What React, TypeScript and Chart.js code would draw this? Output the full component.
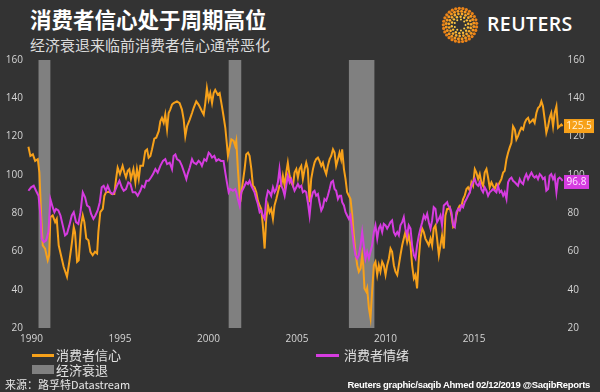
import React, { useEffect, useRef } from "react";
import { Chart, registerables } from "chart.js";

Chart.register(...registerables);

// ---- Data ----
const confDates = [
  1989.83, 1989.94, 1990.08, 1990.21, 1990.36, 1990.45, 1990.55, 1990.64, 1990.77, 1990.92, 1991.0, 1991.07, 1991.2, 1991.34, 1991.43, 1991.54, 1991.67, 1991.82,
  1992.01, 1992.14, 1992.28, 1992.39, 1992.46, 1992.58, 1992.67, 1992.8, 1992.9, 1992.99, 1993.1, 1993.22, 1993.33, 1993.46, 1993.59, 1993.71, 1993.78, 1993.89,
  1994.03, 1994.12, 1994.21, 1994.4, 1994.53, 1994.68, 1994.78, 1994.87, 1995.0, 1995.15, 1995.25, 1995.34, 1995.44, 1995.53, 1995.62, 1995.76,
  1995.87, 1995.96, 1996.06, 1996.15, 1996.3, 1996.43, 1996.53, 1996.62, 1996.72, 1996.81, 1996.94, 1997.05, 1997.19, 1997.28, 1997.37, 1997.47, 1997.56, 1997.66,
  1997.75, 1997.84, 1997.94, 1998.03, 1998.22, 1998.37, 1998.5, 1998.6, 1998.69, 1998.79, 1998.94, 1999.07, 1999.16, 1999.31, 1999.44, 1999.54, 1999.63, 1999.73,
  1999.82, 1999.91, 2000.01, 2000.1, 2000.2, 2000.29, 2000.38, 2000.52, 2000.63, 2000.76, 2000.85, 2000.95, 2001.04, 2001.1, 2001.19, 2001.29, 2001.42, 2001.51,
  2001.57, 2001.66, 2001.79, 2001.91, 2002.04, 2002.13, 2002.23, 2002.32, 2002.42, 2002.51, 2002.6, 2002.7, 2002.79, 2002.89, 2002.98, 2003.07, 2003.17, 2003.26,
  2003.36, 2003.45, 2003.54, 2003.64, 2003.73, 2003.83, 2003.92, 2004.01, 2004.11, 2004.2, 2004.3, 2004.39, 2004.48, 2004.58, 2004.67, 2004.77, 2004.86, 2004.96,
  2005.05, 2005.14, 2005.24, 2005.33, 2005.43, 2005.52, 2005.61, 2005.71, 2005.8, 2005.9, 2005.99, 2006.08, 2006.18, 2006.27, 2006.37, 2006.46, 2006.55, 2006.65,
  2006.74, 2006.84, 2006.93, 2007.03, 2007.12, 2007.21, 2007.31, 2007.4, 2007.49,
  2007.55, 2007.65, 2007.74, 2007.83, 2007.93, 2008.02, 2008.12, 2008.21, 2008.3, 2008.4, 2008.49, 2008.59, 2008.68, 2008.74, 2008.81, 2008.91, 2008.96, 2009.06,
  2009.15, 2009.24, 2009.34, 2009.43, 2009.53, 2009.62, 2009.71, 2009.81, 2009.9, 2010.0, 2010.09, 2010.19, 2010.28, 2010.37, 2010.47, 2010.56, 2010.66, 2010.75,
  2010.84, 2010.94, 2011.03, 2011.12, 2011.22, 2011.31, 2011.41, 2011.5, 2011.6, 2011.69, 2011.78, 2011.88, 2011.97, 2012.07, 2012.16, 2012.25, 2012.35, 2012.44,
  2012.54, 2012.63, 2012.72, 2012.82, 2012.91, 2013.01, 2013.1, 2013.19, 2013.29, 2013.38, 2013.48,
  2013.53, 2013.63, 2013.72, 2013.82, 2013.91, 2014.0, 2014.1, 2014.19, 2014.29, 2014.38, 2014.47, 2014.57, 2014.66, 2014.76, 2014.85, 2014.94, 2015.04, 2015.13,
  2015.23, 2015.32, 2015.41, 2015.51, 2015.6, 2015.7, 2015.79, 2015.88, 2015.98, 2016.07, 2016.17, 2016.26, 2016.35, 2016.45, 2016.54, 2016.64, 2016.73, 2016.83,
  2016.92, 2017.01, 2017.11, 2017.2, 2017.3, 2017.39, 2017.48, 2017.58, 2017.67, 2017.77, 2017.86, 2017.95, 2018.05, 2018.14, 2018.24, 2018.33, 2018.42, 2018.52,
  2018.61, 2018.71, 2018.8, 2018.89, 2018.99, 2019.08, 2019.18, 2019.27, 2019.36, 2019.46, 2019.55, 2019.65, 2019.74, 2019.83, 2019.93, 2020.0,
];
const confValues = [
  114.7, 109.9, 110.7, 107.3, 108.2, 101.2, 78.8, 63.2, 61.5, 55.4, 58, 77.9, 78.8, 75.3, 77, 63.2, 58, 52,
  46.8, 54.6, 64.1, 72.7, 70.1, 54.6, 55.4, 73.6, 78.8, 75.3, 66.7, 65.8, 59.8, 58, 59.8, 58.9, 70.1, 80.5,
  82.2, 89.1, 90.9, 91.2, 90, 90, 97.8, 103.8, 100.4, 104.7, 101.2, 98.6, 102.1, 103, 97.8, 103,
  96.1, 103, 97.8, 104.7, 104.7, 112.5, 113.3, 109, 109.9, 113.3, 118.9, 119.4, 122.8, 128, 129.8, 127.2, 131.5, 123.7,
  132.3, 134.1, 136.7, 137.5, 138.4, 137.5, 134.1, 128.9, 120.2, 125.4, 128.9, 132.3, 134.9, 138.4, 136.7, 134.9, 133.2, 131.5,
  137.5, 145.3, 139.3, 142.7, 137.5, 142.7, 144.4, 141.9, 142.7, 135.8, 130.6, 124.6, 115.9, 109.9, 114.2, 118.5, 117.7, 115.1,
  117.7, 103, 85.7, 94.3, 103, 110.7, 111.6, 109.9, 103, 94.3, 93.5, 90.9, 86.5, 84, 82.2, 73.6, 61.5, 77,
  84, 80.5, 82.2, 77, 84, 87.4, 90.9, 94.3, 94.3, 99.5, 94.3, 101.2, 106.4, 99.5, 96.1, 94.3, 101.2, 103,
  98.6, 103, 104.7, 97.8, 103, 106.4, 103, 85.7, 97.8, 103, 106.4, 108.2, 109, 107.3, 104.7, 106.4, 103, 100.4,
  104.7, 108.2, 109.9, 113.3, 111.6, 104.7, 108.2, 111.6, 108.2,
  113.3, 103, 97.8, 90.9, 89.1, 87.4, 78.8, 68.4, 59.8, 52.8, 49.4, 51.1, 58, 52.8, 40.7, 39, 40.7, 30.4,
  25.2, 39, 52.8, 54.6, 47.7, 52.8, 49.4, 54.6, 52.8, 47.7, 52.8, 56.3, 61.5, 59.8, 52.8, 49.4, 47.7, 52.8,
  58, 63.2, 66.7, 70.1, 64.9, 68.4, 63.2, 52.8, 45.9, 47.7, 40.7, 56.3, 66.7, 71.9, 70.1, 66.7, 64.9, 63.2,
  66.7, 63.2, 71.9, 73.6, 66.7, 58, 63.2, 68.4, 61.5, 78.8, 82.2,
  82.2, 83.1, 78.8, 72.7, 73.6, 78.8, 82.2, 84, 84, 87.4, 89.1, 92.6, 93.5, 91.7, 96.1, 94.3, 103, 101.2,
  97.8, 100.4, 96.1, 94.3, 101.2, 103, 98.6, 93.5, 96.1, 94.3, 92.6, 95.2, 94.3, 96.1, 97.8, 101.2, 102.1, 108.2,
  111.6, 114.2, 116.8, 125.4, 123.7, 118.5, 120.2, 122.8, 124.6, 123.7, 127.2, 128.9, 129.8, 127.2, 128, 128.9, 127.2, 132.3,
  134.9, 135.8, 138.4, 135.8, 128.9, 122, 125.4, 129.8, 132.3, 125.4, 132.3, 135.8, 124.6, 125.4, 126.3, 125.5,
];

const sentDates = [
  1989.83, 1989.98, 1990.13, 1990.26, 1990.4, 1990.51, 1990.58, 1990.7, 1990.83, 1990.96, 1991.07, 1991.2, 1991.3, 1991.39, 1991.52, 1991.64, 1991.77, 1991.9,
  1992.01, 1992.14, 1992.28, 1992.39, 1992.52, 1992.65, 1992.77, 1992.9, 1993.03, 1993.14, 1993.27, 1993.37, 1993.5, 1993.61, 1993.74, 1993.86, 1993.97, 1994.08,
  1994.21, 1994.31, 1994.46, 1994.59, 1994.72, 1994.83, 1994.97, 1995.1, 1995.21, 1995.34, 1995.47, 1995.59, 1995.72,
  1995.87, 1996.0, 1996.15, 1996.25, 1996.38, 1996.49, 1996.62, 1996.75, 1996.87, 1997.0, 1997.13, 1997.28, 1997.43, 1997.56, 1997.66, 1997.81, 1997.94, 1998.03,
  1998.13, 1998.22, 1998.37, 1998.5, 1998.63, 1998.75, 1998.82, 1998.94, 1999.07, 1999.16, 1999.31, 1999.44, 1999.54, 1999.63, 1999.76, 1999.88, 2000.01, 2000.1,
  2000.2, 2000.33, 2000.44, 2000.57, 2000.7, 2000.85, 2000.95, 2001.04, 2001.14, 2001.23, 2001.38, 2001.51,
  2001.57, 2001.66, 2001.76, 2001.85, 2001.95, 2002.04, 2002.13, 2002.23, 2002.32, 2002.42, 2002.51, 2002.6, 2002.7, 2002.79, 2002.89, 2002.98, 2003.07, 2003.17,
  2003.26, 2003.36, 2003.45, 2003.54, 2003.64, 2003.73, 2003.83, 2003.92, 2004.01, 2004.11, 2004.2, 2004.3, 2004.39, 2004.48, 2004.58, 2004.67, 2004.77, 2004.86,
  2004.96, 2005.05, 2005.14, 2005.24, 2005.33, 2005.43, 2005.52, 2005.61, 2005.71, 2005.8, 2005.9, 2005.99, 2006.08, 2006.18, 2006.27, 2006.37, 2006.46, 2006.55,
  2006.65, 2006.74, 2006.84, 2006.93, 2007.03, 2007.12, 2007.21, 2007.31, 2007.4, 2007.49,
  2007.55, 2007.65, 2007.74, 2007.83, 2007.93, 2008.02, 2008.12, 2008.21, 2008.3, 2008.4, 2008.49, 2008.59, 2008.68, 2008.77, 2008.87, 2008.96, 2009.06, 2009.15,
  2009.24, 2009.34, 2009.43, 2009.53, 2009.62, 2009.71, 2009.81, 2009.9, 2010.0, 2010.09, 2010.19, 2010.28, 2010.37, 2010.47, 2010.56, 2010.66, 2010.75, 2010.84,
  2010.94, 2011.03, 2011.12, 2011.22, 2011.31, 2011.41, 2011.5, 2011.6, 2011.69, 2011.78, 2011.88, 2011.97, 2012.07, 2012.16, 2012.25, 2012.35, 2012.44, 2012.54,
  2012.63, 2012.72, 2012.82, 2012.91, 2013.01, 2013.1, 2013.19, 2013.29, 2013.38, 2013.48,
  2013.53, 2013.63, 2013.72, 2013.82, 2013.91, 2014.0, 2014.1, 2014.19, 2014.29, 2014.38, 2014.47, 2014.57, 2014.66, 2014.76, 2014.85, 2014.94, 2015.04, 2015.13,
  2015.23, 2015.32, 2015.41, 2015.51, 2015.6, 2015.7, 2015.79, 2015.88, 2015.98, 2016.07, 2016.17, 2016.26, 2016.35, 2016.45, 2016.54, 2016.64, 2016.73, 2016.83,
  2016.92, 2017.01, 2017.11, 2017.2, 2017.3, 2017.39, 2017.48, 2017.58, 2017.67, 2017.77, 2017.86, 2017.95, 2018.05, 2018.14, 2018.24, 2018.33, 2018.42, 2018.52,
  2018.61, 2018.71, 2018.8, 2018.89, 2018.99, 2019.08, 2019.18, 2019.27, 2019.36, 2019.46, 2019.55, 2019.65, 2019.74, 2019.83, 2019.93, 2020.0,
];
const sentValues = [
  91.7, 93.5, 94.3, 91.7, 89.1, 78.8, 66.7, 64.9, 65.8, 70.1, 87.4, 83.1, 80.5, 82.2, 81.4, 78.8, 73.6, 68.4,
  69.3, 73.6, 78.8, 80.5, 75.3, 74.4, 80.5, 90.9, 88.3, 84, 83.1, 79.6, 77, 78.8, 81.4, 85.7, 93.5, 94.3,
  91.7, 94.3, 90.9, 90, 91.7, 94.3, 96.9, 93.5, 91.7, 92.6, 96.1, 95.2, 90.9,
  90.9, 89.1, 91.7, 94.3, 93.5, 96.9, 96.9, 98.6, 100.4, 103, 101.2, 104.7, 107.3, 108.2, 105.6, 106.4, 103, 109.9,
  110.7, 108.2, 107.3, 104.7, 101.2, 97.8, 100.4, 103.8, 108.2, 106.4, 105.6, 107.3, 106.4, 104.7, 108.2, 107.3, 111.6, 110.7,
  109, 109.9, 107.3, 108.2, 107.3, 107.3, 101.2, 96.1, 90.9, 92.6, 91.7, 92.6,
  91, 87.4, 84, 90.9, 92.6, 94.3, 96.1, 95.2, 96.9, 94.3, 92.6, 90.9, 87.4, 84.8, 80.5, 81.4, 78.8, 77,
  87.4, 91.7, 90.9, 89.1, 93.5, 90.9, 92.6, 96.1, 103, 94.3, 92.6, 89.1, 94.3, 99.5, 96.1, 97.8, 94.3, 91.7,
  93.5, 95.2, 93.5, 94.3, 90.9, 91.7, 90.9, 85.7, 78.8, 87.4, 90.9, 91.7, 89.1, 90, 85.7, 81.4, 83.1, 87.4,
  86.5, 89.1, 92.6, 96.1, 96.9, 92.6, 91.7, 87.4, 89.1, 89.1,
  85.7, 84, 80.5, 78.8, 77, 78.8, 70.1, 63.2, 58, 56.3, 58, 63.2, 70.1, 63.2, 56.3, 59.8, 56.3, 59.8,
  63.2, 70.1, 73.6, 66.7, 71.9, 73.6, 70.1, 74.4, 73.6, 71.9, 73.6, 75.3, 76.2, 70.1, 68.4, 70.1, 68.4, 73.6,
  75.3, 77.9, 71.9, 68.4, 73.6, 71.9, 63.2, 58, 56.3, 63.2, 68.4, 71.9, 75.3, 78.8, 77, 79.6, 75.3, 71.9,
  76.2, 83.1, 82.2, 75.3, 77, 78.8, 73.6, 84, 84.8, 85.7,
  84, 83.1, 80.5, 73.6, 72.7, 80.5, 82.2, 81.4, 84, 83.1, 85.7, 87.4, 89.1, 90.9, 94.3, 96.1, 97.8, 95.2,
  94.3, 96.1, 92.6, 90.9, 93.5, 91.7, 89.1, 90.9, 91.7, 92.6, 91.7, 90.9, 94.3, 90.9, 91.7, 89.1, 90.9, 87.4,
  96.1, 97.8, 98.6, 96.9, 96.1, 95.2, 94.3, 97.8, 96.1, 95.2, 98.6, 100.4, 97.8, 99.5, 101.2, 99.5, 98.6, 99.5,
  97.8, 100.4, 99.5, 97.8, 98.6, 91.7, 92.6, 99.5, 100.4, 97.8, 99.5, 90.9, 97.8, 98.6, 97.8, 96.8,
];

const recessionStarts = [1990.4, 2001.14, 2007.93];
const recessionEnds = [1991.07, 2001.85, 2009.37];
const xTickYears = [1990, 1995, 2000, 2005, 2010, 2015];
const yMin = 20;
const yMax = 160;
const yStep = 20;
const confLast = 125.5;
const sentLast = 96.8;

const confLabel = "消费者信心";
const sentLabel = "消费者情绪";
const recessionLabel = "经济衰退";

// ---- Styles ----
const BG = "#333333";
const ORANGE = "#F7A11A";
const MAGENTA = "#D63CE0";
const GRAY = "#808080";
const TICK = "#d4d4d4";
const CJK = '"Noto Sans CJK SC", "Noto Sans", sans-serif';
const NUM = '"Open Sans", "Noto Sans", sans-serif';

const recessionPlugin = {
  id: "recessions",
  beforeDatasetsDraw(chart: any) {
    const { ctx, scales } = chart;
    const yTop = scales.y.getPixelForValue(yMax);
    const yBot = scales.y.getPixelForValue(yMin);
    ctx.save();
    ctx.fillStyle = GRAY;
    recessionStarts.forEach((s, i) => {
      const x0 = scales.x.getPixelForValue(s);
      const x1 = scales.x.getPixelForValue(recessionEnds[i]);
      ctx.fillRect(x0, yTop, x1 - x0, yBot - yTop);
    });
    ctx.restore();
  },
};

const lastValuePlugin = {
  id: "lastValues",
  afterDraw(chart: any) {
    const { ctx, chartArea, scales } = chart;
    const items = [
      { v: confLast, bg: ORANGE, fg: "#fff4dc", w: 30, dy: 0 },
      { v: sentLast, bg: MAGENTA, fg: "#ffe6ff", w: 25, dy: 1 },
    ];
    ctx.save();
    ctx.font = `10px ${NUM}`;
    ctx.textBaseline = "middle";
    ctx.textAlign = "center";
    items.forEach((it) => {
      const cy = scales.y.getPixelForValue(it.v) + it.dy;
      const x = chartArea.right + 0.5;
      ctx.fillStyle = it.bg;
      ctx.fillRect(x, cy - 7, it.w, 14);
      ctx.fillStyle = it.fg;
      ctx.fillText(String(it.v), x + it.w / 2, cy + 0.5);
    });
    ctx.restore();
  },
};

function ReutersLogo() {
  const rings = [
    { r: 5.5, n: 9, d: 1.0, c: "#ffd04a" },
    { r: 8.3, n: 14, d: 1.2, c: "#ffc03a" },
    { r: 11.1, n: 19, d: 1.35, c: "#fbab2c" },
    { r: 13.9, n: 24, d: 1.5, c: "#f5971f" },
    { r: 16.7, n: 29, d: 1.6, c: "#ec8418" },
  ];
  const dots: any[] = [];
  rings.forEach((ring, ri) => {
    for (let k = 0; k < ring.n; k++) {
      const a = (k / ring.n) * Math.PI * 2 + ri * 0.3;
      dots.push(
        <circle key={`${ri}-${k}`} cx={19 + ring.r * Math.cos(a)} cy={19 + ring.r * Math.sin(a)} r={ring.d} fill={ring.c} />
      );
    }
  });
  return (
    <svg width={38} height={38} style={{ position: "absolute", left: 441, top: 6 }}>
      {dots}
    </svg>
  );
}

export default function App() {
  const ref = useRef<HTMLCanvasElement | null>(null);

  useEffect(() => {
    if (!ref.current) return;
    const tickFont = { family: NUM, size: 10 };
    const chart = new Chart(ref.current, {
      type: "line",
      data: {
        datasets: [
          {
            label: sentLabel,
            data: sentDates.map((x, i) => ({ x, y: sentValues[i] })),
            borderColor: MAGENTA,
            backgroundColor: MAGENTA,
            borderWidth: 2,
            pointRadius: 0,
            tension: 0,
            order: 0,
          },
          {
            label: confLabel,
            data: confDates.map((x, i) => ({ x, y: confValues[i] })),
            borderColor: ORANGE,
            backgroundColor: ORANGE,
            borderWidth: 2,
            pointRadius: 0,
            tension: 0,
            order: 1,
          },
        ],
      },
      options: {
        animation: false,
        responsive: false,
        maintainAspectRatio: false,
        layout: { padding: { top: 8, left: 0, right: 0, bottom: 0 } },
        plugins: { legend: { display: false }, tooltip: { enabled: false } },
        scales: {
          x: {
            type: "linear",
            min: 1989.75,
            max: 2020.05,
            grid: { display: false, drawTicks: false },
            border: { display: false },
            afterBuildTicks: (s: any) => {
              s.ticks = xTickYears.map((v) => ({ value: v }));
            },
            afterFit: (s: any) => {
              s.height = 22;
            },
            ticks: {
              color: TICK,
              font: tickFont,
              padding: 5,
              autoSkip: false,
              maxRotation: 0,
              callback: (v: any) => String(v),
            },
          },
          y: {
            position: "left",
            min: yMin,
            max: yMax,
            grid: { display: false, drawTicks: false },
            border: { display: false },
            afterFit: (s: any) => {
              s.width = 27;
            },
            ticks: { stepSize: yStep, color: TICK, font: tickFont, padding: 4 },
          },
          y2: {
            position: "right",
            min: yMin,
            max: yMax,
            grid: { display: false, drawTicks: false },
            border: { display: false },
            afterFit: (s: any) => {
              s.width = 36.5;
            },
            ticks: { stepSize: yStep, color: TICK, font: tickFont, padding: 4 },
          },
        },
      } as any,
      plugins: [recessionPlugin, lastValuePlugin],
    });
    return () => chart.destroy();
  }, []);

  const abs = (o: any) => ({ position: "absolute", whiteSpace: "nowrap", ...o });

  return (
    <div style={{ position: "fixed", left: 0, top: 0, width: 600, height: 392, background: BG, overflow: "hidden", fontFamily: CJK }}>
      <div style={abs({ left: 30, top: 7, fontSize: 21.5, lineHeight: "24px", fontWeight: 700, color: "#ffffff" })}>消费者信心处于周期高位</div>
      <div style={abs({ left: 30, top: 36, fontSize: 15, lineHeight: "17px", color: "#dcdcdc" })}>经济衰退来临前消费者信心通常恶化</div>
      <ReutersLogo />
      <div style={abs({ left: 487, top: 11, fontSize: 19.5, lineHeight: "26px", fontWeight: 600, color: "#ffffff", fontFamily: NUM, letterSpacing: 0.4 })}>REUTERS</div>

      <div style={{ position: "absolute", left: 0, top: 50, width: 600, height: 300 }}>
        <canvas ref={ref} width={600} height={300} style={{ width: 600, height: 300, display: "block" }} />
      </div>

      <div style={abs({ left: 32, top: 354, width: 22, height: 3, background: ORANGE })} />
      <div style={abs({ left: 56, top: 346, fontSize: 13, lineHeight: "17px", color: "#e2e2e2" })}>{confLabel}</div>
      <div style={abs({ left: 32, top: 365, width: 22, height: 9, background: GRAY })} />
      <div style={abs({ left: 56, top: 361, fontSize: 13, lineHeight: "17px", color: "#e2e2e2" })}>{recessionLabel}</div>
      <div style={abs({ left: 316, top: 354, width: 23, height: 3, background: MAGENTA })} />
      <div style={abs({ left: 344, top: 346, fontSize: 13, lineHeight: "17px", color: "#e2e2e2" })}>{sentLabel}</div>

      <div style={abs({ left: 5, top: 377, fontSize: 11, lineHeight: "14px", color: "#e6e6e6" })}>来源：路孚特Datastream</div>
      <div style={abs({ right: 10, top: 378, fontSize: 9.5, lineHeight: "13px", fontWeight: 700, color: "#ffffff", fontFamily: '"Liberation Sans", Arial, sans-serif', letterSpacing: -0.3 })}>
        Reuters graphic/saqib Ahmed 02/12/2019 @SaqibReports
      </div>
    </div>
  );
}
